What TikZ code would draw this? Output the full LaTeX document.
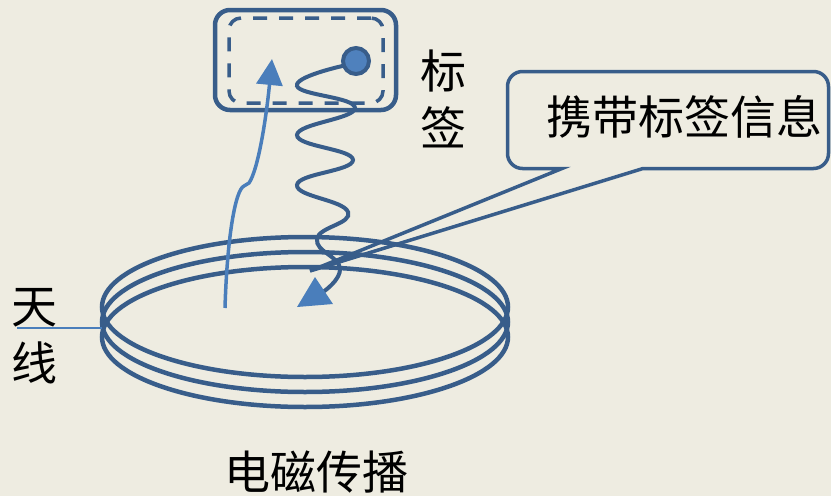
\documentclass[tikz,border=0pt]{standalone}
\usepackage{fontspec}
\setmainfont{Noto Sans CJK SC}
\usetikzlibrary{arrows.meta,positioning,calc}
\definecolor{slidebg}{HTML}{EEECE1}
\definecolor{coilblue}{HTML}{385D8A}
\definecolor{fieldblue}{HTML}{4A7EBB}
\definecolor{chipblue}{HTML}{4F81BD}

\begin{document}
\begin{tikzpicture}[x=1pt, y=-1pt,
    coil/.style={coilblue, line width=4.5pt},
    wave/.style={coilblue, line width=4pt, line cap=round},
    field/.style={fieldblue, line width=3.5pt},
    label/.style={font=\fontsize{46}{57}\selectfont, align=center, inner sep=0pt},
    tagbox/.style={draw=coilblue, line width=4.5pt, rounded corners=15pt},
    chipcoil/.style={draw=coilblue, line width=3.5pt, dash pattern=on 14pt off 12pt, rounded corners=12pt}]
    \useasboundingbox (0,0) rectangle (831,496);
    \fill[slidebg] (0,0) rectangle (831,496);

    % --- Reader antenna: three turns ---
    \foreach \cy in {307,322,337}
        \draw[coil] (305,\cy) ellipse [x radius=203, y radius=70];
    \coordinate (feed) at (17,328);
    \coordinate (coil left) at (102,328);
    \draw[fieldblue, line width=1.5pt] (feed) -- (coil left);
    \node[label] (antenna) at (34,336) {天\\线};

    % --- Tag ---
    \node[tagbox, minimum width=181pt, minimum height=100pt] (tag) at (305.5,60) {};
    \node[chipcoil, minimum width=154pt, minimum height=85pt] (tag coil) at (306,60.5) {};
    \node[circle, draw=coilblue, fill=chipblue, line width=4pt, minimum size=26pt, inner sep=0pt] (chip) at (356,61) {};
    \node[label] (tag label) at (443,99) {标\\签};

    % Field going up into the tag
    \coordinate (field start) at (225,308);
    \coordinate (field end) at (272,59);
    \draw[field, -{Triangle[length=26pt, width=26pt]}] (field start)
        .. controls (227,240) and (235,190) .. (244,186) -- (249,183)
        .. controls (258,170) and (266,120) .. (field end);

    % Reply wave back down to the antenna
    \draw[wave] plot[smooth, tension=0.8] coordinates {(chip.200) (297,86) (355,108) (297,135) (353,160)
        (297,185) (348,212) (317,239) (340,268) (323,292)};
    \coordinate (wave tip) at (315,277);
    \fill[fieldblue] (wave tip) -- (297,307) -- (333,304) -- cycle;

    % --- Callout ---
    \coordinate (pointer) at (310,271);
    \draw[coilblue, line width=3.5pt] (530,168.5) -- (562,168.5) -- (pointer) -- (643,168.5) -- (700,168.5)
        [rounded corners=15pt] -- (828.5,168.5) -- (828.5,71.5) -- (507.5,71.5) -- (507.5,168.5) -- (530,168.5);
    \node[label] (info) at (684,117) {携带标签信息};

    \node[label] (transfer) at (316,472) {电磁传播};
\end{tikzpicture}
\end{document}
